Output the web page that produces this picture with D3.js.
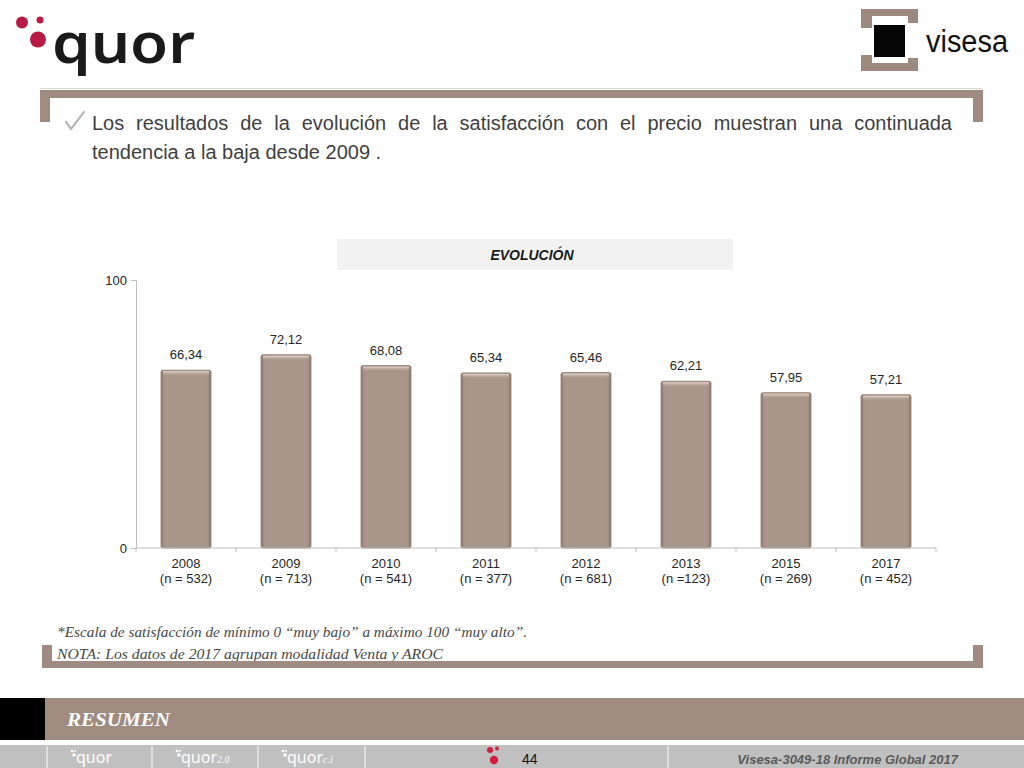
<!DOCTYPE html>
<html><head><meta charset="utf-8">
<script src="https://cdn.jsdelivr.net/npm/d3@7/dist/d3.min.js"></script>
<style>html,body{margin:0;padding:0;background:#fff;}svg{display:block;}</style>
</head><body>
<script>
// ---- data ----
const years = ["2008","2009","2010","2011","2012","2013","2015","2017"];
const sampleSizes = ["(n = 532)","(n = 713)","(n = 541)","(n = 377)","(n = 681)","(n =123)","(n = 269)","(n = 452)"];
const values = [66.34, 72.12, 68.08, 65.34, 65.46, 62.21, 57.95, 57.21];
const yTicks = [0, 100];
const headerLines = ["Los resultados de la evolución de la satisfacción con el precio muestran una continuada","tendencia a la baja desde 2009 ."];
const chartTitle = "EVOLUCIÓN";
const notes = ["*Escala de satisfacción de mínimo 0 “muy bajo” a máximo 100 “muy alto”.","NOTA: Los datos de 2017 agrupan modalidad Venta y AROC"];
const sectionLabel = "RESUMEN";
const pageNumber = "44";
const footerRef = "Visesa-3049-18  Informe Global 2017";

const W = 1024, H = 768;
const svg = d3.select("body").append("svg").attr("width", W).attr("height", H);
const defs = svg.append("defs");
const brown = "#9f8b7f";

// ---- logos ----
const red = "#b71a42";
[[22,22.5,6],[40,20,3.5],[38,39.5,8]].forEach(d=>svg.append("circle").attr("cx",d[0]).attr("cy",d[1]).attr("r",d[2]).attr("fill",red));
svg.append("text").attr("x",52).attr("y",63).attr("font-family","Noto Sans, sans-serif").attr("font-weight",600)
  .attr("font-size",56).attr("textLength",143).attr("lengthAdjust","spacingAndGlyphs").attr("fill","#1a1a1a").text("quor");

// visesa logo
const vb = "#9d8a7e";
svg.append("rect").attr("x",861).attr("y",9).attr("width",57).attr("height",7).attr("fill",vb);
svg.append("rect").attr("x",861).attr("y",9).attr("width",11).attr("height",19).attr("fill",vb);
svg.append("rect").attr("x",908).attr("y",9).attr("width",10).attr("height",14).attr("fill",vb);
svg.append("rect").attr("x",861).attr("y",63).attr("width",57).attr("height",8).attr("fill",vb);
svg.append("rect").attr("x",861).attr("y",55).attr("width",11).attr("height",16).attr("fill",vb);
svg.append("rect").attr("x",908).attr("y",58).attr("width",10).attr("height",13).attr("fill",vb);
svg.append("rect").attr("x",874).attr("y",25).attr("width",31).attr("height",32).attr("fill","#050505");
svg.append("text").attr("x",926).attr("y",52).attr("font-family","Liberation Sans, Arial, sans-serif")
  .attr("font-size",31).attr("textLength",82).attr("lengthAdjust","spacingAndGlyphs").attr("fill","#111").text("visesa");

// separator line under logos
svg.append("line").attr("x1",40).attr("x2",982).attr("y1",88.5).attr("y2",88.5).attr("stroke","#e0d8d0").attr("stroke-width",1);

// ---- header frame ----
svg.append("rect").attr("x",40).attr("y",90).attr("width",943).attr("height",8).attr("fill",brown);
svg.append("rect").attr("x",40).attr("y",90).attr("width",10).attr("height",32).attr("fill",brown);
svg.append("rect").attr("x",973).attr("y",90).attr("width",10).attr("height",32).attr("fill",brown);

// checkmark
svg.append("path").attr("d","M66,122 L71,129 L84,112").attr("fill","none").attr("stroke","#b8b8b8").attr("stroke-width",2.2).attr("stroke-linecap","round");

// header text, justified first line
const hFont = "Liberation Sans, Arial, sans-serif";
const h1 = svg.append("text").attr("x",92).attr("y",130).attr("font-family",hFont).attr("font-size",20).attr("fill","#3f3f3f").text(headerLines[0]);
const natural = h1.node().getComputedTextLength();
const nGaps = headerLines[0].split(" ").length - 1;
h1.attr("word-spacing", ((952-92) - natural)/nGaps);
svg.append("text").attr("x",92).attr("y",159).attr("font-family",hFont).attr("font-size",20).attr("fill","#3f3f3f").text(headerLines[1]);

// ---- chart title box ----
svg.append("rect").attr("x",337).attr("y",239).attr("width",396).attr("height",31).attr("fill","#f2f2f2");
svg.append("text").attr("x",532).attr("y",260).attr("text-anchor","middle").attr("font-family",hFont)
  .attr("font-weight","bold").attr("font-style","italic").attr("font-size",14).attr("fill","#1a1a1a").text(chartTitle);

// ---- chart ----
const x = d3.scaleBand().domain(years).range([136,936]).paddingInner(0.5).paddingOuter(0.25);
const y = d3.scaleLinear().domain([0,100]).range([548,280]);

// gradients for bars
const g1 = defs.append("linearGradient").attr("id","barH").attr("x1",0).attr("x2",1).attr("y1",0).attr("y2",0);
[[0,"#8f7d72"],[0.08,"#a8968a"],[0.92,"#a8968a"],[1,"#8f7d72"]].forEach(s=>g1.append("stop").attr("offset",s[0]).attr("stop-color",s[1]));
const g2 = defs.append("linearGradient").attr("id","barTop").attr("x1",0).attr("x2",0).attr("y1",0).attr("y2",1);
[[0,"#e8d8cf",1],[1,"#a8968a",0]].forEach(s=>g2.append("stop").attr("offset",s[0]).attr("stop-color",s[1]).attr("stop-opacity",s[2]));

const bars = svg.append("g");
bars.selectAll("rect.bar").data(values).join("rect").attr("class","bar")
  .attr("x",(d,i)=>x(years[i])).attr("y",d=>y(d)).attr("width",x.bandwidth()).attr("height",d=>y(0)-y(d))
  .attr("rx",2).attr("fill","url(#barH)").attr("stroke","#8a786d").attr("stroke-width",0.8);
bars.selectAll("rect.hl").data(values).join("rect").attr("class","hl")
  .attr("x",(d,i)=>x(years[i])+2).attr("y",d=>y(d)+1).attr("width",x.bandwidth()-4).attr("height",5)
  .attr("fill","url(#barTop)");

// value labels
svg.append("g").selectAll("text").data(values).join("text")
  .attr("x",(d,i)=>x(years[i])+x.bandwidth()/2).attr("y",d=>y(d)-11)
  .attr("text-anchor","middle").attr("font-family",hFont).attr("font-size",13).attr("fill","#262626")
  .text(d=>d.toFixed(2).replace(".",","));

// y axis
const yAxis = svg.append("g").attr("transform","translate(136,0)")
  .call(d3.axisLeft(y).tickValues(yTicks).tickSize(5).tickFormat(d3.format("d")));
yAxis.select(".domain").attr("stroke","#bfbfbf");
yAxis.selectAll(".tick line").attr("stroke","#bfbfbf");
yAxis.selectAll(".tick text").attr("font-family",hFont).attr("font-size",13).attr("fill","#262626").attr("x",-9);

// x axis
const xAxisG = svg.append("g").attr("transform","translate(0,548)");
xAxisG.append("line").attr("x1",136).attr("x2",936).attr("stroke","#bfbfbf");
const boundaries = years.map(c=>x(c)-x.step()*x.paddingInner()/2).concat([936]);
xAxisG.selectAll("line.tk").data(boundaries).join("line").attr("class","tk")
  .attr("x1",d=>d).attr("x2",d=>d).attr("y1",0).attr("y2",4).attr("stroke","#bfbfbf");
const xl = xAxisG.selectAll("text.xl").data(years).join("text").attr("class","xl")
  .attr("text-anchor","middle").attr("font-family",hFont).attr("font-size",13).attr("fill","#262626");
xl.append("tspan").attr("x",d=>x(d)+x.bandwidth()/2).attr("y",20).text(d=>d);
xl.append("tspan").attr("x",d=>x(d)+x.bandwidth()/2).attr("y",35).text((d,i)=>sampleSizes[i]);

// ---- notes ----
const serif = "Liberation Serif, 'DejaVu Serif', serif";
svg.append("text").attr("x",57).attr("y",637).attr("font-family",serif).attr("font-style","italic").attr("font-size",15)
  .attr("textLength",470).attr("lengthAdjust","spacingAndGlyphs").attr("fill","#4a4a4a").text(notes[0]);
svg.append("text").attr("x",57).attr("y",659).attr("font-family",serif).attr("font-style","italic").attr("font-size",15)
  .attr("textLength",386).attr("lengthAdjust","spacingAndGlyphs").attr("fill","#4a4a4a").text(notes[1]);

// bottom frame
svg.append("rect").attr("x",42).attr("y",645).attr("width",10).attr("height",23).attr("fill",brown);
svg.append("rect").attr("x",42).attr("y",661).attr("width",941).attr("height",7).attr("fill",brown);
svg.append("rect").attr("x",973).attr("y",645).attr("width",10).attr("height",23).attr("fill",brown);

// ---- footer band ----
svg.append("rect").attr("x",0).attr("y",698).attr("width",W).attr("height",42).attr("fill",brown);
svg.append("rect").attr("x",0).attr("y",698).attr("width",45).attr("height",42).attr("fill","#000");
svg.append("text").attr("x",67).attr("y",726).attr("font-family",serif).attr("font-weight","bold").attr("font-style","italic")
  .attr("font-size",18).attr("textLength",103).attr("lengthAdjust","spacingAndGlyphs").attr("fill","#fff").text(sectionLabel);

svg.append("rect").attr("x",0).attr("y",745).attr("width",W).attr("height",23).attr("fill","#c0c0c0");
[47,152,258,365,668].forEach(sx=>svg.append("line").attr("x1",sx).attr("x2",sx).attr("y1",746).attr("y2",768).attr("stroke","#e8e8e8").attr("stroke-width",1.5));

// small quor logos in footer
const smallLogos = [{x:76,sub:""},{x:181,sub:"2.0"},{x:287,sub:"c.i"}];
smallLogos.forEach(l=>{
  svg.append("circle").attr("cx",l.x-4).attr("cy",751).attr("r",1.3).attr("fill","#fff");
  svg.append("circle").attr("cx",l.x-1).attr("cy",751).attr("r",1).attr("fill","#fff");
  svg.append("circle").attr("cx",l.x-2).attr("cy",755).attr("r",1.8).attr("fill","#fff");
  const t = svg.append("text").attr("x",l.x).attr("y",763).attr("font-family","Noto Sans, sans-serif").attr("font-size",16).attr("fill","#fff").text("quor");
  if (l.sub) t.append("tspan").attr("font-family",serif).attr("font-style","italic").attr("font-size",10).text(l.sub);
});

// page number dots + number
[[490,750,3],[497,748.5,2],[494,760,4.2]].forEach(d=>svg.append("circle").attr("cx",d[0]).attr("cy",d[1]).attr("r",d[2]).attr("fill","#d21f3c"));
svg.append("text").attr("x",522).attr("y",764).attr("font-family",hFont).attr("font-size",14).attr("fill","#111").text(pageNumber);
svg.append("text").attr("x",958).attr("y",764).attr("text-anchor","end").attr("font-family",hFont)
  .attr("font-weight","bold").attr("font-style","italic").attr("font-size",13).attr("fill","#5a5a5a").text(footerRef);
</script>
</body></html>
